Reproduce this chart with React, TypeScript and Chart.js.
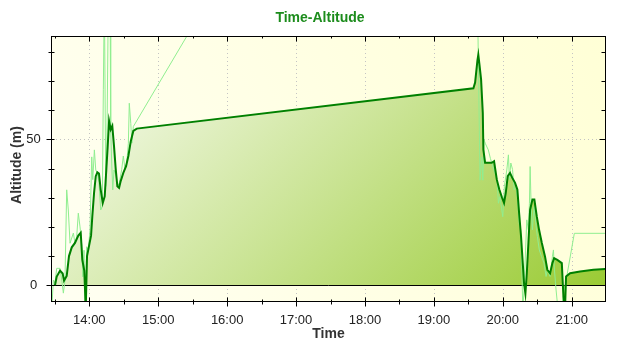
import { useEffect, useRef } from 'react';
import { Chart, registerables } from 'chart.js';

Chart.register(...registerables);

// ---- axis ranges (minutes since midnight / metres) ----
const xMinMinutes = 807.5;
const xMaxMinutes = 1289.0;
const yMinAlt = -5.4;
const yMaxAlt = 85.1;

// ---- tick labels ----
const xTickHours = [14, 15, 16, 17, 18, 19, 20, 21];
const xTickLabels = ['14:00', '15:00', '16:00', '17:00', '18:00', '19:00', '20:00', '21:00'];
const yTickValues = [0, 50];
const yTickLabels = ['0', '50'];
const yMinorValues = [10, 20, 30, 40, 60, 70, 80];

// ---- smoothed altitude (dark green, filled) ----
const smoothTimes = [
  810.1, 811.6, 814.5, 816.8, 818.0, 820.3, 822.3, 824.7, 827.5, 830.4, 832.5, 833.9, 835.6, 836.9,
  838.0, 839.5, 841.5, 842.6, 844.1, 845.6, 847.0, 848.4, 849.9, 851.7, 853.4, 854.8, 856.0, 857.2,
  858.6, 860.0, 861.5, 863.0, 864.4, 865.9, 867.3, 869.6, 872.0, 874.0, 876.1, 878.3, 881.3,
  1174.4, 1175.9, 1177.9, 1178.7, 1179.6, 1181.1, 1182.6, 1183.1, 1184.6, 1190.4, 1192.4, 1194.8,
  1197.0, 1199.4, 1201.1, 1202.6, 1204.3, 1206.3, 1208.3, 1210.7, 1212.7, 1214.2, 1215.9, 1217.4,
  1218.5, 1219.7, 1220.9, 1222.3, 1223.8, 1225.8, 1227.5, 1229.6, 1231.6, 1234.0, 1236.8, 1238.8,
  1241.2, 1243.2, 1244.7, 1247.5, 1251.4, 1252.8, 1254.2, 1255.1, 1258.6, 1267.3, 1278.9, 1289.7,
];
const smoothAlt = [
  0, 3, 5, 4, 1.6, 3.2, 10, 13, 14.5, 17, 18, 8.7, 5, -8,
  10, 13, 17, 23.6, 31.6, 37.4, 38.7, 38.3, 32.8, 28.2, 30.5, 39.7, 47.7, 56.3,
  53.4, 54.6, 47.7, 39.7, 33.9, 33.4, 35.7, 38.5, 40.8, 44.3, 49.4, 52.9, 53.7,
  67.5, 69.5, 77, 79, 76, 70.6, 59, 46.5, 42, 42, 42.5, 36.2,
  32.8, 30, 28.2, 31.7, 37.4, 38.5, 36.8, 35.1, 32.8, 24.8, 16.7, 7.6,
  0.7, -2.8, 4.1, 14.5, 25.9, 29.4, 29.4, 23.6, 19, 14.5, 9.8, 5.3,
  4.1, 7.6, 9.3, 8.7, 7.6, -3.9, -8, 3, 4.1, 4.7, 5.3, 5.6,
];

// ---- raw altitude (light green) ----
const rawTimes = [
  807.3, 808.7, 810.1, 811.6, 814.5, 816.0, 817.4, 818.8, 820.3, 821.7, 823.2, 826.1, 827.5, 829.0,
  830.4, 831.9, 833.4, 834.3, 835.4, 836.3, 837.7, 839.1, 840.6, 842.1, 843.0, 844.4, 845.6, 847.0,
  848.4, 849.9, 851.3, 852.2, 853.1, 854.3, 855.2, 856.6, 858.1, 858.6, 859.5, 860.4, 861.5, 863.3,
  864.7, 866.1, 868.2, 869.6, 871.1, 872.6, 874.0, 874.8, 876.1, 877.0, 878.3,
  1172.5, 1179.6, 1180.2, 1181.7, 1182.6, 1183.7, 1184.9, 1187.4, 1189.2, 1192.1, 1195.0, 1196.2,
  1197.6, 1199.1, 1200.0, 1201.4, 1203.5, 1204.9, 1205.8, 1207.0, 1208.5, 1209.9, 1211.6, 1212.8,
  1214.2, 1215.6, 1216.5, 1217.4, 1218.6, 1219.4, 1220.9, 1222.3, 1223.2, 1223.8, 1224.7, 1225.8,
  1227.2, 1228.7, 1230.1, 1231.8, 1233.8, 1235.9, 1237.7, 1238.8, 1241.2, 1243.2, 1244.1, 1245.0,
  1246.4, 1249.0, 1262.3, 1289.7,
];
const rawAlt = [
  -8, 1.8, 0.7, 5.8, 5.8, 1.8, -2.7, 1.8, 32.7, 25.8, 14.4, 17.9, 14.4, 16.6,
  24.7, 20, 14, 2.9, 12, -8, 13.2, 12, 19, 44, 36.2, 46.4, 39.5, 38.5,
  35.1, 25.8, 27, 67, 100, 33.9, 44, 100, 100, 53.4, 41.9, 32.7, 39.5, 37.4,
  34, 35.1, 39.7, 44.3, 39.7, 42, 48.7, 62.4, 55.5, 48.7, 54.4,
  250, 53, 36, 44, 36, 49.8, 48.5, 46.4, 43.5, 39.7, 36.2, 28.1,
  30.4, 25.8, 23.5, 33.9, 39.5, 44.7, 36.2, 41.9, 39.7, 32.7, 33.9, 29.3,
  21.3, 19, 7.6, -8, -1.6, 7.6, 22.4, 19, 28.1, 40.7, 27, 19,
  27, 21.3, 16.7, 12.1, 9.8, 7.6, 3, 5.2, 3, 9.8, 12.1, 5.2,
  -1.6, -12, 17.8, 17.8,
];

const TICK_FONT = '13px "Liberation Sans", Arial, sans-serif';
const BOLD_FONT = 'bold 14px "Liberation Sans", Arial, sans-serif';

const decorPlugin = {
  id: 'decor',
  beforeDraw(chart: any) {
    const { ctx, chartArea: a } = chart;
    const xs = chart.scales.x;
    const ys = chart.scales.y;
    ctx.save();
    ctx.fillStyle = '#ffffff';
    ctx.fillRect(0, 0, chart.width, chart.height);
    const bg = ctx.createLinearGradient(a.left, a.bottom, a.right, a.top);
    bg.addColorStop(0, '#fffff2');
    bg.addColorStop(1, '#ffffd6');
    ctx.fillStyle = bg;
    ctx.fillRect(a.left, a.top, a.right - a.left, a.bottom - a.top);
    ctx.strokeStyle = '#c4c4c4';
    ctx.lineWidth = 1;
    ctx.setLineDash([1, 3]);
    ctx.beginPath();
    for (const h of xTickHours) {
      const px = Math.round(xs.getPixelForValue(h * 60)) + 0.5;
      ctx.moveTo(px, a.top);
      ctx.lineTo(px, a.bottom);
    }
    for (const v of yTickValues) {
      const py = Math.round(ys.getPixelForValue(v)) + 0.5;
      ctx.moveTo(a.left, py);
      ctx.lineTo(a.right, py);
    }
    ctx.stroke();
    ctx.restore();
  },
  beforeDatasetsDraw(chart: any) {
    const { ctx, chartArea: a } = chart;
    const ys = chart.scales.y;
    ctx.save();
    ctx.strokeStyle = '#000000';
    ctx.lineWidth = 1;
    const py = Math.round(ys.getPixelForValue(0)) + 0.5;
    ctx.beginPath();
    ctx.moveTo(a.left, py);
    ctx.lineTo(a.right, py);
    ctx.stroke();
    ctx.restore();
  },
  afterDatasetsDraw(chart: any) {
    const { ctx, chartArea: a } = chart;
    const xs = chart.scales.x;
    const ys = chart.scales.y;
    ctx.save();
    ctx.strokeStyle = '#000000';
    ctx.lineWidth = 1;
    ctx.strokeRect(a.left - 0.5, a.top - 0.5, a.right - a.left + 1, a.bottom - a.top + 1);
    const L = a.left - 0.5, R = a.right + 0.5, T = a.top - 0.5, B = a.bottom + 0.5;
    ctx.beginPath();
    for (let m = Math.ceil(xMinMinutes / 30) * 30; m <= xMaxMinutes; m += 30) {
      const px = Math.round(xs.getPixelForValue(m)) + 0.5;
      const major = m % 60 === 0;
      ctx.moveTo(px, B - (major ? 4 : 2));
      ctx.lineTo(px, B + (major ? 5 : 3));
      ctx.moveTo(px, T);
      ctx.lineTo(px, T + (major ? 5 : 2));
    }
    const ally = [...yTickValues.map((v) => [v, 1]), ...yMinorValues.map((v) => [v, 0])];
    for (const [v, major] of ally) {
      const py = Math.round(ys.getPixelForValue(v)) + 0.5;
      ctx.moveTo(L - (major ? 5 : 3), py);
      ctx.lineTo(L + 3, py);
      ctx.moveTo(R, py);
      ctx.lineTo(R - (major ? 6 : 4), py);
    }
    ctx.stroke();

    ctx.fillStyle = '#222222';
    ctx.font = TICK_FONT;
    ctx.textAlign = 'center';
    ctx.textBaseline = 'middle';
    xTickHours.forEach((h, i) => {
      ctx.fillText(xTickLabels[i], xs.getPixelForValue(h * 60), 320);
    });
    yTickValues.forEach((v, i) => {
      ctx.fillText(yTickLabels[i], 33.5, ys.getPixelForValue(v) + 0.5);
    });

    ctx.font = BOLD_FONT;
    ctx.fillStyle = '#1c8c1c';
    ctx.fillText('Time-Altitude', 320, 18);
    ctx.fillStyle = '#333333';
    ctx.fillText('Time', (a.left + a.right) / 2, 334);
    ctx.translate(17.5, (a.top + a.bottom) / 2 - 4);
    ctx.rotate(-Math.PI / 2);
    ctx.fillText('Altitude (m)', 0, 0);
    ctx.restore();
  },
};

export default function App() {
  const canvasRef = useRef<HTMLCanvasElement | null>(null);

  useEffect(() => {
    const canvas = canvasRef.current;
    if (!canvas) return;
    const smoothData = smoothTimes.map((t, i) => ({ x: t, y: smoothAlt[i] }));
    const rawData = rawTimes.map((t, i) => ({ x: t, y: rawAlt[i] }));

    const chart = new Chart(canvas, {
      type: 'line',
      data: {
        datasets: [
          {
            label: 'Altitude (smoothed)',
            data: smoothData,
            borderColor: '#008000',
            borderWidth: 2,
            pointRadius: 0,
            tension: 0,
            fill: 'origin',
            clip: 0,
            backgroundColor: (c: any) => {
              const ch = c.chart;
              const a = ch.chartArea;
              if (!a) return 'rgba(170,210,90,0.6)';
              const s = (a.right - a.left + a.bottom - a.top) / 2;
              const g = ch.ctx.createLinearGradient(a.left, a.top, a.left + s, a.top + s);
              g.addColorStop(0, '#ffffff');
              g.addColorStop(1, '#98ca30');
              return g;
            },
          } as any,
          {
            label: 'Altitude (raw)',
            data: rawData,
            borderColor: '#90ee90',
            borderWidth: 1,
            pointRadius: 0,
            tension: 0,
            fill: false,
            clip: 0,
          } as any,
        ],
      },
      options: {
        animation: false,
        responsive: false,
        devicePixelRatio: 1,
        layout: { padding: { left: 52, top: 37, right: 35, bottom: 49 } },
        scales: {
          x: { type: 'linear', min: xMinMinutes, max: xMaxMinutes, display: false },
          y: { type: 'linear', min: yMinAlt, max: yMaxAlt, display: false },
        },
        plugins: {
          legend: { display: false },
          title: { display: false },
          tooltip: { enabled: false },
          filler: { drawTime: 'beforeDatasetsDraw' },
        } as any,
      },
      plugins: [decorPlugin],
    });
    return () => chart.destroy();
  }, []);

  return (
    <div style={{ position: 'fixed', left: 0, top: 0, width: 640, height: 350, background: '#fff' }}>
      <canvas ref={canvasRef} width={640} height={350} style={{ display: 'block' }} />
    </div>
  );
}
